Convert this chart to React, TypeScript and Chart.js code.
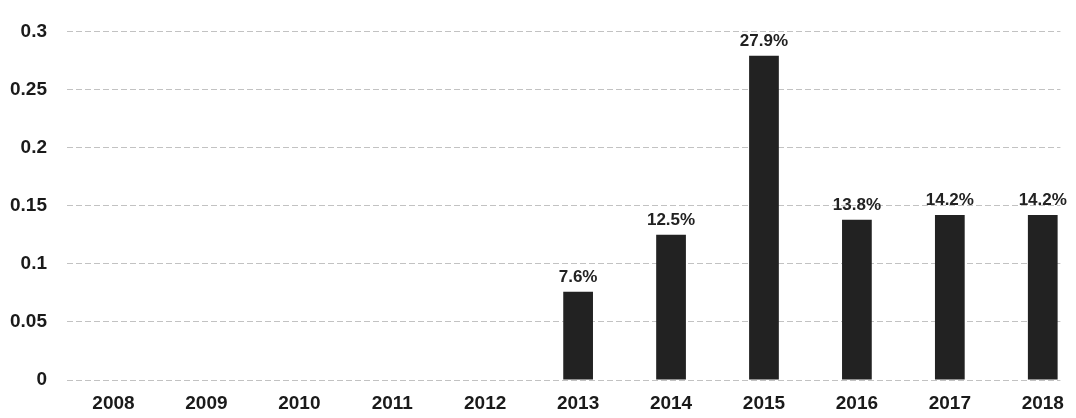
import React, { useEffect, useRef } from "react";
import { Chart, registerables } from "chart.js";

Chart.register(...registerables);

const years = ["2008", "2009", "2010", "2011", "2012", "2013", "2014", "2015", "2016", "2017", "2018"];
const growth = [0, 0, 0, 0, 0, 0.076, 0.125, 0.279, 0.138, 0.142, 0.142];
const growthLabels = ["", "", "", "", "", "7.6%", "12.5%", "27.9%", "13.8%", "14.2%", "14.2%"];
const yTickLabels = ["0", "0.05", "0.1", "0.15", "0.2", "0.25", "0.3"];

const FONT = "'Liberation Sans', Arial, sans-serif";

const barLabelPlugin = {
  id: "barLabels",
  afterDatasetsDraw(chart: any) {
    const ctx = chart.ctx;
    const meta = chart.getDatasetMeta(0);
    ctx.save();
    ctx.font = `bold 17px ${FONT}`;
    ctx.fillStyle = "#222";
    ctx.textAlign = "center";
    ctx.textBaseline = "alphabetic";
    meta.data.forEach((bar: any, i: number) => {
      const txt = growthLabels[i];
      if (!txt) return;
      ctx.fillText(txt, bar.x, bar.y - 10);
    });
    ctx.restore();
  },
};

export default function App() {
  const ref = useRef<HTMLCanvasElement | null>(null);

  useEffect(() => {
    document.body.style.margin = "0";
    const canvas = ref.current;
    if (!canvas) return;
    const points = years.map((_, i) => ({ x: i, y: growth[i] }));
    const chart = new Chart(canvas, {
      type: "bar",
      data: {
        datasets: [
          {
            data: points,
            backgroundColor: "#222222",
            borderWidth: 0,
            barPercentage: 0.32,
            categoryPercentage: 1,
          },
        ],
      },
      options: {
        responsive: false,
        animation: false,
        layout: { padding: { top: 20, right: 6, left: 0, bottom: 0 } },
        plugins: {
          legend: { display: false },
          tooltip: { enabled: false },
        },
        scales: {
          x: {
            type: "linear",
            min: -0.5,
            max: 10.19,
            offset: false,
            grid: { display: false, drawTicks: false, offset: false },
            border: { display: false },
            afterBuildTicks(scale: any) {
              scale.ticks = years.map((_, i) => ({ value: i }));
            },
            ticks: {
              color: "#1a1a1a",
              font: { family: FONT, size: 19, weight: "bold" },
              padding: 12,
              maxRotation: 0,
              autoSkip: false,
              callback: (v: any) => years[v as number] ?? "",
            },
            afterFit(scale: any) {
              scale.height = 38;
            },
          },
          y: {
            min: 0,
            max: 0.3,
            grid: {
              color: "#c2c2c2",
              lineWidth: 1,
              drawTicks: false,
            },
            border: { display: false, dash: [6, 3] },
            ticks: {
              stepSize: 0.05,
              color: "#1a1a1a",
              font: { family: FONT, size: 19, weight: "bold" },
              padding: 20,
              callback: (_v: any, i: number) => yTickLabels[i],
            },
            afterFit(scale: any) {
              scale.width = 67;
            },
          },
        },
      },
      plugins: [barLabelPlugin],
    } as any);
    return () => chart.destroy();
  }, []);

  return (
    <div style={{ width: 1076, height: 418, background: "#fff" }}>
      <canvas ref={ref} width={1076} height={418} style={{ display: "block" }} />
    </div>
  );
}
